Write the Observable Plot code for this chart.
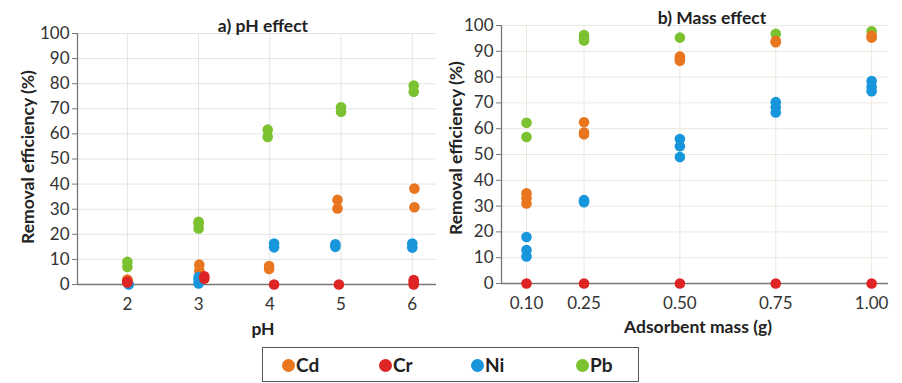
<!DOCTYPE html>
<html><head><meta charset="utf-8">
<script src="https://cdn.jsdelivr.net/npm/d3@7"></script>
<script src="https://cdn.jsdelivr.net/npm/@observablehq/plot@0.6"></script>
<style>
body{margin:0;background:#fff;}
#wrap{position:relative;width:902px;height:383px;overflow:hidden;font-family:Lato,"Open Sans",sans-serif;color:#222;}
.abs{position:absolute;white-space:nowrap;}
.ctr{transform:translate(-50%,-50%);}
.title{font-weight:bold;font-size:17.5px;}
.axt{font-weight:bold;font-size:17.5px;}
.ytitle{font-weight:bold;font-size:17.5px;transform:translate(-50%,-50%) rotate(-90deg);}
#legend{position:absolute;left:262px;top:347px;width:377px;height:35px;border:1px solid #555;box-sizing:border-box;}
.li{position:absolute;top:6px;font-weight:bold;font-size:19px;line-height:21px;}
.sw{position:absolute;width:13px;height:13px;border-radius:50%;}
</style></head>
<body><div id="wrap"></div>
<script>
// ---- data ----
const metals = ["Cd", "Cr", "Ni", "Pb"];
const metalColors = ["#e8761e", "#de2424", "#1796dc", "#7cc12f"];
const yTicks = [0, 10, 20, 30, 40, 50, 60, 70, 80, 90, 100];

// a) pH effect (x values as read, incl. slight horizontal spread)
const phLevels = [2, 3, 4, 5, 6];
const phCdX = [2.0, 3.01, 3.99, 4.95, 6.03];
const phCd = [[1.5, 2], [5.5, 7.9], [6.2, 7.4], [30.3, 33.7], [30.8, 38.2]];
const phCrX = [2.0, 3.08, 4.06, 4.97, 6.02];
const phCr = [[0.8, 1.2], [2.3, 3.3], [0], [0], [0, 1, 1.8]];
const phNiX = [2.02, 3.0, 4.06, 4.92, 6.0];
const phNi = [[0], [0.4, 2, 3], [14.8, 16.3], [15, 16], [14.7, 16.3]];
const phPbX = [2.0, 3.0, 3.97, 5.0, 6.02];
const phPb = [[7, 9], [22.3, 24.3, 25], [58.8, 61.7], [68.8, 70.6], [76.8, 79.3]];

// b) Mass effect
const massLevels = [0.10, 0.25, 0.50, 0.75, 1.00];
const massCd = [[35, 33, 31], [62.5, 58.5, 57.8], [88, 87, 86.3], [94, 93.5], [96, 95.3]];
const massCr = [[0], [0], [0], [0], [0]];
const massNi = [[18, 13, 10.5], [32.3, 31.5], [56, 53.2, 49], [70.3, 68.3, 66.3], [78.5, 76.3, 74.5]];
const massPb = [[62.3, 56.8], [96.3, 95.2, 94.2], [95.3], [96.8], [97.8]];

// ---- build tables ----
function rows(xs, vals, metal) {
  const out = [];
  vals.forEach((arr, i) => arr.forEach(v => out.push({x: xs[i], y: v, metal})));
  return out;
}
// drawing order: Pb, Cd, Ni, Cr
const phData = [
  ...rows(phPbX, phPb, "Pb"), ...rows(phCdX, phCd, "Cd"),
  ...rows(phNiX, phNi, "Ni"), ...rows(phCrX, phCr, "Cr")
];
const massData = [
  ...rows(massLevels, massPb, "Pb"), ...rows(massLevels, massCd, "Cd"),
  ...rows(massLevels, massNi, "Ni"), ...rows(massLevels, massCr, "Cr")
];

const wrap = document.getElementById("wrap");
const font = {fontSize: "17px", fontFamily: "Lato, 'Open Sans', sans-serif", color: "#333", background: "transparent"};

function chart({xDomain, xTicks, fmt, data, width, marginLeft, marginRight, marginTop, marginBottom, grid}) {
  return Plot.plot({
    width, height: 340, marginLeft, marginRight, marginTop, marginBottom,
    style: font,
    x: {domain: xDomain, label: null},
    y: {domain: [0, 100], label: null},
    color: {domain: metals, range: metalColors},
    marks: [
      Plot.gridX(xTicks, {stroke: grid, strokeOpacity: 1}),
      Plot.gridY(yTicks.filter(d => d > 0), {stroke: grid, strokeOpacity: 1}),
      Plot.axisY(yTicks, {tickSize: 5, tickPadding: 3, stroke: "#777", fill: "#333", label: null}),
      Plot.axisX(xTicks, {tickSize: 0, tickPadding: 13, tickFormat: fmt, fill: "#333", label: null}),
      Plot.ruleY([0], {stroke: "#777", strokeWidth: 1.3}),
      Plot.ruleX([xDomain[0]], {stroke: "#777", strokeWidth: 1.3}),
      Plot.dot(data, {x: "x", y: "y", fill: "metal", r: 5.3})
    ]
  });
}

const left = chart({xDomain: [1.3, 6.34], xTicks: phLevels, fmt: d => String(d), data: phData,
  width: 440, marginLeft: 77, marginRight: 4, marginTop: 33, marginBottom: 56, grid: "#e4e4e4"});
left.style.position = "absolute"; left.style.left = "0px"; left.style.top = "0px";
wrap.appendChild(left);

const right = chart({xDomain: [0.0348, 1.044], xTicks: massLevels, fmt: d => d.toFixed(2), data: massData,
  width: 462, marginLeft: 61, marginRight: 14, marginTop: 25, marginBottom: 57, grid: "#ebe8df"});
right.style.position = "absolute"; right.style.left = "440px"; right.style.top = "0px";
wrap.appendChild(right);

function label(text, cls, x, y) {
  const d = document.createElement("div");
  d.className = "abs " + cls;
  d.textContent = text;
  d.style.left = x + "px"; d.style.top = y + "px";
  wrap.appendChild(d);
}
label("a) pH effect", "title ctr", 263, 25);
label("b) Mass effect", "title ctr", 712, 17);
label("Removal efficiency (%)", "ytitle", 27, 157);
label("Removal efficiency (%)", "ytitle", 455, 148);
label("pH", "axt ctr", 263, 328);
label("Adsorbent mass (g)", "axt ctr", 698, 326);

// legend
const legend = document.createElement("div");
legend.id = "legend";
wrap.appendChild(legend);
const legX = [26, 123, 215, 320];
metals.forEach((m, i) => {
  const sw = document.createElement("div");
  sw.className = "sw";
  sw.style.background = metalColors[i];
  sw.style.left = (legX[i] - 7) + "px";
  sw.style.top = "11px";
  legend.appendChild(sw);
  const t = document.createElement("div");
  t.className = "li";
  t.textContent = m;
  t.style.left = (legX[i] + 7) + "px";
  legend.appendChild(t);
});
</script>
</body></html>
